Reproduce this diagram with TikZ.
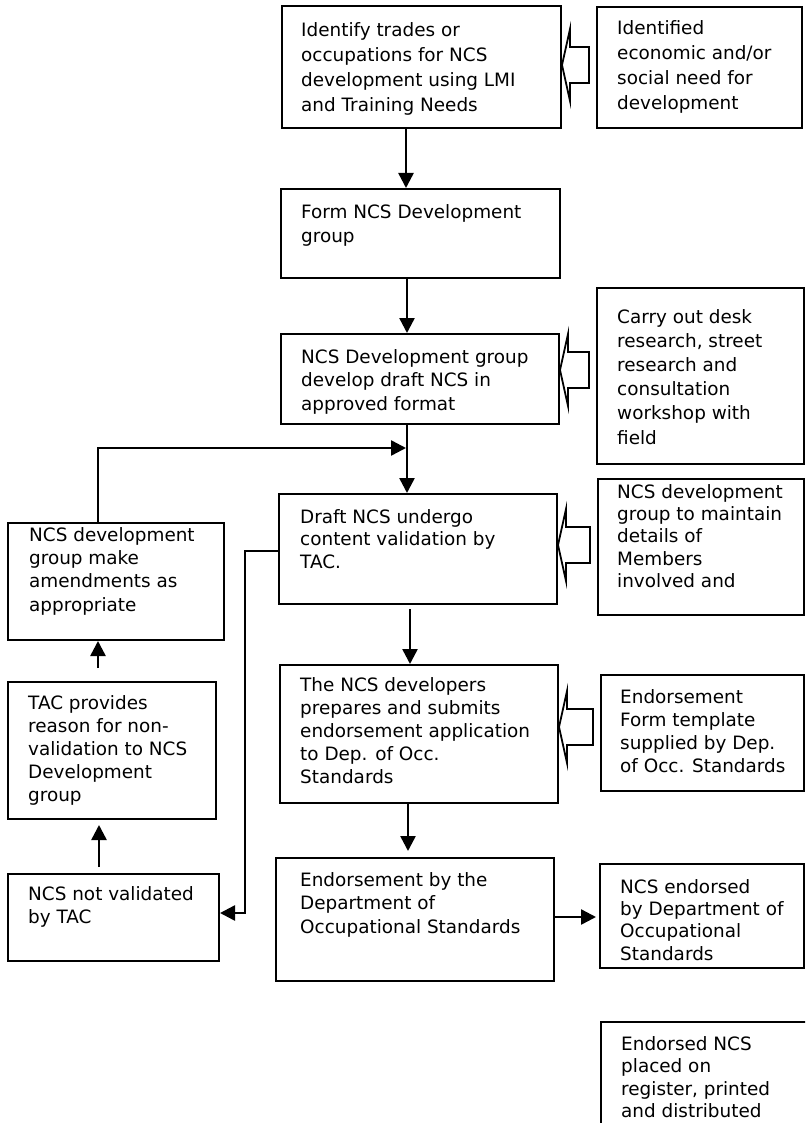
\documentclass[tikz,border=0pt]{standalone}
\usepackage{fontspec}
\setmainfont{DejaVu Sans}
\usetikzlibrary{arrows.meta,calc}
\newcommand\hollowarr[3]{%
  \coordinate (hy) at (0,#3);
  \draw[hollow] (#1.east |- hy) -- ++(8,-36) -- ++(0,18) -- ($(#2.west |- hy)+(-7,-18)$) -- ++(0,36) -- ($(#1.east |- hy)+(8,18)$) -- ++(0,18) -- cycle;}
\begin{document}
\begin{tikzpicture}[x=1pt,y=-1pt,
  box/.style={draw, line width=2pt, inner sep=0pt, anchor=north west},
  txt/.style={anchor=north west, align=left, inner sep=0pt, font=\fontsize{18.4}{#1}\selectfont},
  txt/.default=23,
  conn/.style={line width=2.5pt},
  arr/.style={conn, -{Triangle[length=15pt,width=15pt]}},
  hollow/.style={line width=1.8pt, line join=miter}]
\useasboundingbox (0,0) rectangle (805,1123);
\fill[white] (0,0) rectangle (805,1123);
\clip (0,0) rectangle (805,1123);

% centre column boxes
\node[box, minimum width=279pt, minimum height=122pt] (b1) at (281,5) {};
\node[box, minimum width=279pt, minimum height=89pt]  (b2) at (280,188) {};
\node[box, minimum width=278pt, minimum height=90pt]  (b3) at (280,333) {};
\node[box, minimum width=278pt, minimum height=110pt] (b4) at (278,493) {};
\node[box, minimum width=278pt, minimum height=138pt] (b5) at (279,664) {};
\node[box, minimum width=278pt, minimum height=123pt] (b6) at (275,857) {};
% right column boxes
\node[box, minimum width=205pt, minimum height=121pt] (r1) at (596,6) {};
\node[box, minimum width=207pt, minimum height=176pt] (r3) at (596,287) {};
\node[box, minimum width=206pt, minimum height=136pt] (r4) at (597,478) {};
\node[box, minimum width=203pt, minimum height=116pt] (r5) at (600,674) {};
\node[box, minimum width=204pt, minimum height=104pt] (r6) at (599,863) {};
\node[box, minimum width=230pt, minimum height=140pt] (r7) at (600,1021) {};
% left column boxes
\node[box, minimum width=216pt, minimum height=117pt] (l1) at (7,522) {};
\node[box, minimum width=208pt, minimum height=137pt] (l2) at (7,681) {};
\node[box, minimum width=211pt, minimum height=87pt]  (l3) at (7,873) {};

% texts (north west = first baseline - 14)
\node[txt=25] (tb1) at (301,22) {Identify trades or\\occupations for NCS\\development using LMI\\and Training Needs};
\node[txt=24] (tb2) at (301,204) {Form NCS Development\\group};
\node[txt=23.5] (tb3) at (301,349) {NCS Development group\\develop draft NCS in\\approved format};
\node[txt=22.5] (tb4) at (300,509) {Draft NCS undergo\\content validation by\\TAC.};
\node[txt=23] (tb5) at (300,677) {The NCS developers\\prepares and submits\\endorsement application\\to Dep. of Occ.\\Standards};
\node[txt=23.5] (tb6) at (300,872) {Endorsement by the\\Department of\\Occupational Standards};
\node[txt=25] (tr1) at (617,20) {Identified\\economic and/or\\social need for\\development};
\node[txt=24.2] (tr3) at (617,309) {Carry out desk\\research, street\\research and\\consultation\\workshop with\\field};
\node[txt=22.3] (tr4) at (617,484) {NCS development\\group to maintain\\details of\\Members\\involved and};
\node[txt=23] (tr5) at (620,689) {Endorsement\\Form template\\supplied by Dep.\\of Occ. Standards};
\node[txt=22.3] (tr6) at (620,879) {NCS endorsed\\by Department of\\Occupational\\Standards};
\node[txt=22.5] (tr7) at (621,1036) {Endorsed NCS\\placed on\\register, printed\\and distributed};
\node[txt=23.3] (tl1) at (29,527) {NCS development\\group make\\amendments as\\appropriate};
\node[txt=23] (tl2) at (28,695) {TAC provides\\reason for non-\\validation to NCS\\Development\\group};
\node[txt=23] (tl3) at (28,886) {NCS not validated\\by TAC};

% helper coordinates
\coordinate (x406) at (406,0);
\coordinate (x407) at (407,0);
\coordinate (x408) at (408,0);
\coordinate (x410) at (410,0);
\coordinate (x98) at (98,0);
\coordinate (x99) at (99,0);
\coordinate (yrej) at (0,551);
\coordinate (yrej2) at (0,913);
\coordinate (yend) at (0,917);
\coordinate (join) at (406,448);

% connectors
\draw[arr] (b1.south -| x406) -- (b2.north -| x406);
\draw[arr] (b2.south -| x407) -- (b3.north -| x407);
\draw[arr] (b3.south -| x407) -- (b4.north -| x407);
\draw[arr] (l1.north -| x98) |- (join);
\draw[arr, shorten <=4pt] (b4.south -| x410) -- (b5.north -| x410);
\draw[arr, shorten >=6pt] (b5.south -| x408) -- (b6.north -| x408);
\draw[arr] (b4.west |- yrej) -- ++(-33,0) |- (l3.east |- yrej2);
\draw[arr, shorten <=13pt] (l2.north -| x98) -- (l1.south -| x98);
\draw[arr, shorten <=6pt, shorten >=5pt] (l3.north -| x99) -- (l2.south -| x99);
\draw[arr, shorten >=3pt] (b6.east |- yend) -- (r6.west |- yend);

% hollow block arrows
\hollowarr{b1}{r1}{65}
\hollowarr{b3}{r3}{370}
\hollowarr{b4}{r4}{545}
\hollowarr{b5}{r5}{727}
\end{tikzpicture}
\end{document}
